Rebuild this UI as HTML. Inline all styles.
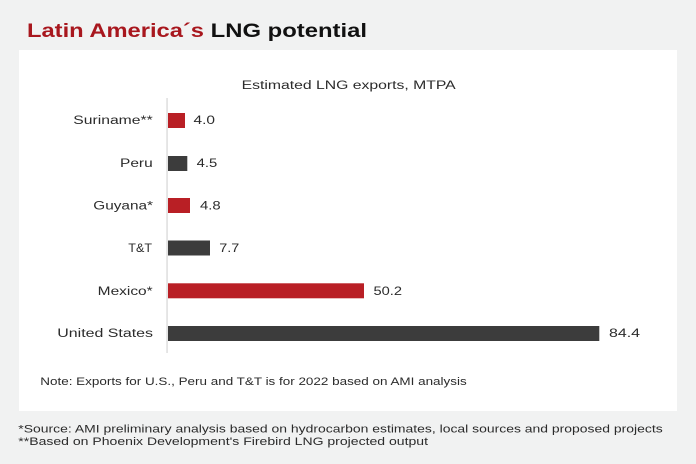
<!DOCTYPE html>
<html>
<head>
<meta charset="utf-8">
<style>
  html, body { margin: 0; padding: 0; background: #f1f2f2; }
  svg { display: block; }
  text { font-family: "Liberation Sans", "DejaVu Sans", sans-serif; }
</style>
</head>
<body>
<svg width="696" height="464" viewBox="0 0 696 464" xmlns="http://www.w3.org/2000/svg">
  <rect x="0" y="0" width="696" height="464" fill="#f1f2f2"/>
  <!-- Title -->
  <text x="27" y="37" font-size="19" font-weight="bold" fill="#a8171e" textLength="177" lengthAdjust="spacingAndGlyphs">Latin America´s</text>
  <text x="210.7" y="37" font-size="19" font-weight="bold" fill="#111111" textLength="156.3" lengthAdjust="spacingAndGlyphs">LNG potential</text>

  <!-- Panel -->
  <rect x="19" y="50" width="658" height="361" fill="#ffffff"/>

  <!-- Subtitle -->
  <text x="241.7" y="89" font-size="11.5" fill="#2b2b2b" textLength="214" lengthAdjust="spacingAndGlyphs">Estimated LNG exports, MTPA</text>

  <!-- Axis line -->
  <rect x="166.3" y="98" width="1.5" height="255" fill="#dedede"/>

  <!-- Bars -->
  <rect x="168" y="113" width="17" height="15" fill="#b91f25"/>
  <rect x="168" y="156" width="19.3" height="15" fill="#3c3c3c"/>
  <rect x="168" y="198" width="22" height="15" fill="#b91f25"/>
  <rect x="168" y="240.5" width="42" height="15" fill="#3c3c3c"/>
  <rect x="168" y="283.3" width="196" height="15" fill="#b91f25"/>
  <rect x="168" y="326" width="431.3" height="15" fill="#3c3c3c"/>

  <!-- Category labels -->
  <g font-size="11.5" fill="#2b2b2b">
    <text x="73.3" y="124" textLength="79.4" lengthAdjust="spacingAndGlyphs">Suriname**</text>
    <text x="120" y="167" textLength="32.7" lengthAdjust="spacingAndGlyphs">Peru</text>
    <text x="93.3" y="209.5" textLength="59.7" lengthAdjust="spacingAndGlyphs">Guyana*</text>
    <text x="128.3" y="252" textLength="23.7" lengthAdjust="spacingAndGlyphs">T&amp;T</text>
    <text x="97.7" y="295" textLength="55" lengthAdjust="spacingAndGlyphs">Mexico*</text>
    <text x="57.3" y="337" textLength="95.7" lengthAdjust="spacingAndGlyphs">United States</text>
  </g>

  <!-- Value labels -->
  <g font-size="11.5" fill="#2b2b2b">
    <text x="193.5" y="124" textLength="21.5" lengthAdjust="spacingAndGlyphs">4.0</text>
    <text x="196.7" y="167" textLength="20.6" lengthAdjust="spacingAndGlyphs">4.5</text>
    <text x="200" y="209.5" textLength="20.7" lengthAdjust="spacingAndGlyphs">4.8</text>
    <text x="219.3" y="252" textLength="20" lengthAdjust="spacingAndGlyphs">7.7</text>
    <text x="373.5" y="295" textLength="28.5" lengthAdjust="spacingAndGlyphs">50.2</text>
    <text x="609" y="337" textLength="31" lengthAdjust="spacingAndGlyphs">84.4</text>
  </g>

  <!-- Note -->
  <text x="40.3" y="385" font-size="11" fill="#2b2b2b" textLength="426.4" lengthAdjust="spacingAndGlyphs">Note: Exports for U.S., Peru and T&amp;T is for 2022 based on AMI analysis</text>

  <!-- Footnotes -->
  <text x="18.3" y="432.7" font-size="11" fill="#2b2b2b" textLength="644.4" lengthAdjust="spacingAndGlyphs">*Source: AMI preliminary analysis based on hydrocarbon estimates, local sources and proposed projects</text>
  <text x="18.3" y="445" font-size="11" fill="#2b2b2b" textLength="409.7" lengthAdjust="spacingAndGlyphs">**Based on Phoenix Development's Firebird LNG projected output</text>
</svg>
</body>
</html>
